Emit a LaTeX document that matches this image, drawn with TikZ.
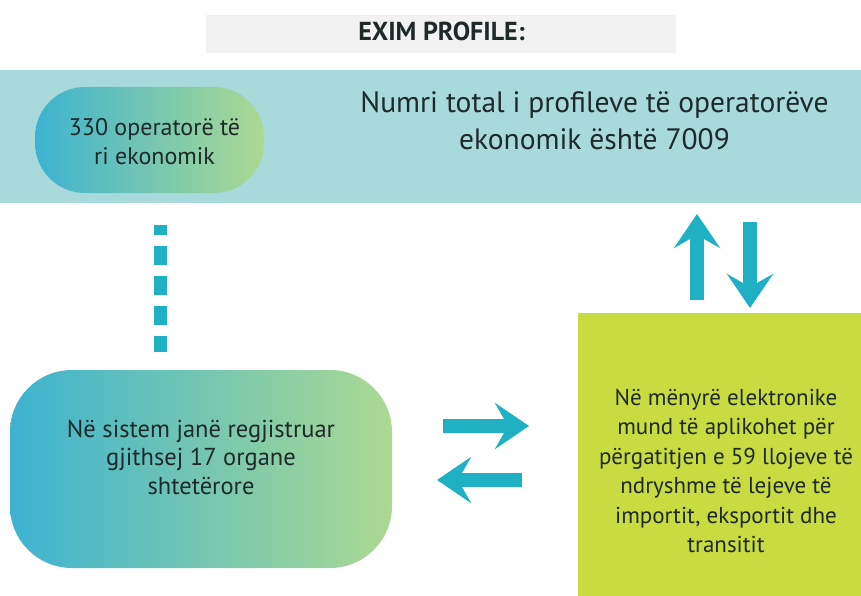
\documentclass[tikz,border=0pt]{standalone}
\usepackage{fontspec}
\setmainfont{PT Sans}
\usepackage{tikz}
\usetikzlibrary{arrows.meta,positioning}

\definecolor{barGray}{HTML}{F2F2F2}
\definecolor{bandTeal}{HTML}{A8DADB}
\definecolor{pillBlue}{HTML}{3DB3D1}
\definecolor{pillGreen}{HTML}{ACD992}
\definecolor{boxLime}{HTML}{C8DB40}
\definecolor{arrowTeal}{HTML}{1FB0C4}
\definecolor{inkDark}{HTML}{1E2A2A}

\begin{document}
\begin{tikzpicture}[x=1pt,y=-1pt,
    every node/.style={text=inkDark},
    titlebar/.style={fill=barGray,minimum width=470pt,minimum height=38pt,inner sep=0pt},
    band/.style={fill=bandTeal,minimum width=861pt,minimum height=133pt,inner sep=0pt},
    pill/.style={left color=pillBlue,right color=pillGreen,inner sep=0pt},
    txt/.style={align=center,inner sep=0pt},
    fat/.style={draw=arrowTeal,line width=14pt,-{Stealth[length=34pt,width=46pt,inset=13pt]}},
    dashline/.style={draw=arrowTeal,line width=13pt,dash pattern=on 19pt off 11pt,dash phase=9pt}]
  \useasboundingbox (0,0) rectangle (861,596);

  \node[titlebar] (title) at (441,34) {};
  \node[txt,font=\fontsize{26}{30}\selectfont\bfseries] (titletxt) at (441.5,31) {EXIM PROFILE:};
  \node[band] (band) at (430.5,136.5) {};
  \node[pill,rounded corners=50pt,minimum width=229pt,minimum height=106pt] (new) at (149.5,140) {};
  \node[txt,font=\fontsize{24}{29}\selectfont] (newtxt) at (154.5,142) {330 operatorë të\\ri ekonomik};
  \node[txt,font=\fontsize{29.5}{37}\selectfont] (total) at (594.5,121) {Numri total i profileve të operatorëve\\ekonomik është 7009};

  \node[pill,rounded corners=62pt,minimum width=382pt,minimum height=198pt] (organs) at (201,469) {};
  \node[txt,font=\fontsize{24.5}{28.5}\selectfont] (organstxt) at (201,457) {Në sistem janë regjistruar\\gjithsej 17 organe\\shtetërore};

  \node[fill=boxLime,minimum width=283pt,minimum height=283pt,inner sep=0pt] (permits) at (719.5,454.5) {};
  \node[txt,font=\fontsize{23}{29.4}\selectfont] (permitstxt) at (726,471) {Në mënyrë elektronike\\mund të aplikohet për\\përgatitjen e 59 llojeve të\\ndryshme të lejeve të\\importit, eksportit dhe\\transitit};

  % connectors
  \coordinate (dashS) at (160,225);
  \coordinate (dashE) at (160,352);
  \draw[dashline] (dashS) -- (dashE);

  \coordinate (upS) at (697,300);
  \coordinate (upE) at (697,214);
  \coordinate (downS) at (750,222);
  \coordinate (downE) at (750,308);
  \draw[fat] (upS) -- (upE);
  \draw[fat] (downS) -- (downE);

  \coordinate (rightS) at (443,426);
  \coordinate (rightE) at (529,426);
  \coordinate (leftS) at (522,480);
  \coordinate (leftE) at (437,480);
  \draw[fat] (rightS) -- (rightE);
  \draw[fat] (leftS) -- (leftE);
\end{tikzpicture}
\end{document}
